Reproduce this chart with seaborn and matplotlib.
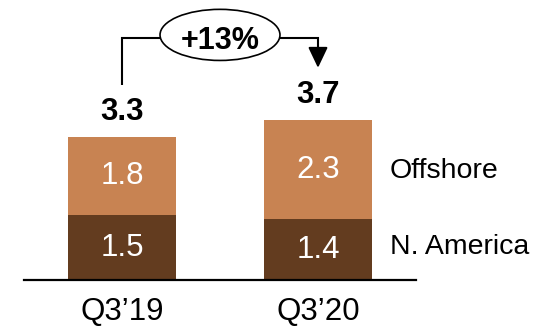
import matplotlib
matplotlib.use("Agg")
import matplotlib.pyplot as plt
from matplotlib.patches import Ellipse
import pandas as pd
import seaborn as sns

# Revenue by region, in billions
quarters = ["Q3\u201919", "Q3\u201920"]
north_america = [1.5, 1.4]
offshore = [1.8, 2.3]
totals = [3.3, 3.7]
growth_label = "+13%"
segment_names = ["Offshore", "N. America"]

dark_brown = "#633C1F"
light_brown = "#C88352"

sns.set_theme(style="white")
plt.rcParams["font.family"] = ["Liberation Sans", "DejaVu Sans"]

df = pd.DataFrame({
    "quarter": quarters,
    "north_america": north_america,
    "offshore": offshore,
    "total": totals,
})

fig = plt.figure(figsize=(5.33, 3.26), dpi=100)
ax = fig.add_axes([24 / 533, 46 / 326, 392 / 533, 280 / 326])

# Stacked bars: full total in the light colour, N. America overlaid at the bottom
sns.barplot(data=df, x="quarter", y="total", color=light_brown, saturation=1,
            width=0.556, linewidth=0, ax=ax, zorder=2)
sns.barplot(data=df, x="quarter", y="north_america", color=dark_brown, saturation=1,
            width=0.556, linewidth=0, ax=ax, zorder=3)

ax.set_xlim(-0.5, 1.5)
ax.set_ylim(0, 6.466)
ax.set_xlabel("")
ax.set_ylabel("")
ax.set_yticks([])

for side in ["top", "right", "left"]:
    ax.spines[side].set_visible(False)
ax.spines["bottom"].set_color("black")
ax.spines["bottom"].set_linewidth(1.6)
ax.spines["bottom"].set_zorder(5)
ax.tick_params(axis="x", length=0, pad=12.5, labelsize=22.5, labelcolor="black")

# Segment values inside bars
for i, (na, off, tot) in enumerate(zip(north_america, offshore, totals)):
    ax.text(i, na / 2, f"{na:.1f}", ha="center", va="center",
            color="white", fontsize=22.5, zorder=4)
    ax.text(i, na + off / 2, f"{off:.1f}", ha="center", va="center",
            color="white", fontsize=22.5, zorder=4)
    ax.text(i, tot + 0.58, f"{tot:.1f}", ha="center", va="center",
            color="black", fontsize=22.5, fontweight="bold", zorder=4)

# Segment legend to the right of the last bar
last = len(quarters) - 1
ax.text(last + 0.365, 2.52, segment_names[0], ha="left", va="center",
        fontsize=20.5, color="black", clip_on=False)
ax.text(last + 0.365, 0.77, segment_names[1], ha="left", va="center",
        fontsize=20.5, color="black", clip_on=False)

# Growth bracket with arrow and ellipse badge
bracket_y = 5.59
start_y = totals[0] + 1.2
end_y = totals[1] + 1.2
ax.plot([0, 0, 1, 1], [start_y, bracket_y, bracket_y, end_y + 0.3],
        color="black", lw=1.5, zorder=4, solid_capstyle="butt",
        solid_joinstyle="miter", clip_on=False)
ax.annotate("", xy=(1, end_y), xytext=(1, end_y + 0.4),
            arrowprops=dict(arrowstyle="-|>,head_length=1.05,head_width=0.5",
                            color="black", lw=1.5, shrinkA=0, shrinkB=0),
            zorder=5)
badge = Ellipse((0.5, 5.66), width=0.612, height=1.18, facecolor="white",
                edgecolor="black", lw=1.2, zorder=6, clip_on=False)
ax.add_patch(badge)
ax.text(0.5, 5.52, growth_label, ha="center", va="center", fontsize=22,
        fontweight="bold", color="black", zorder=7)

fig.savefig("out.png", dpi=100)
